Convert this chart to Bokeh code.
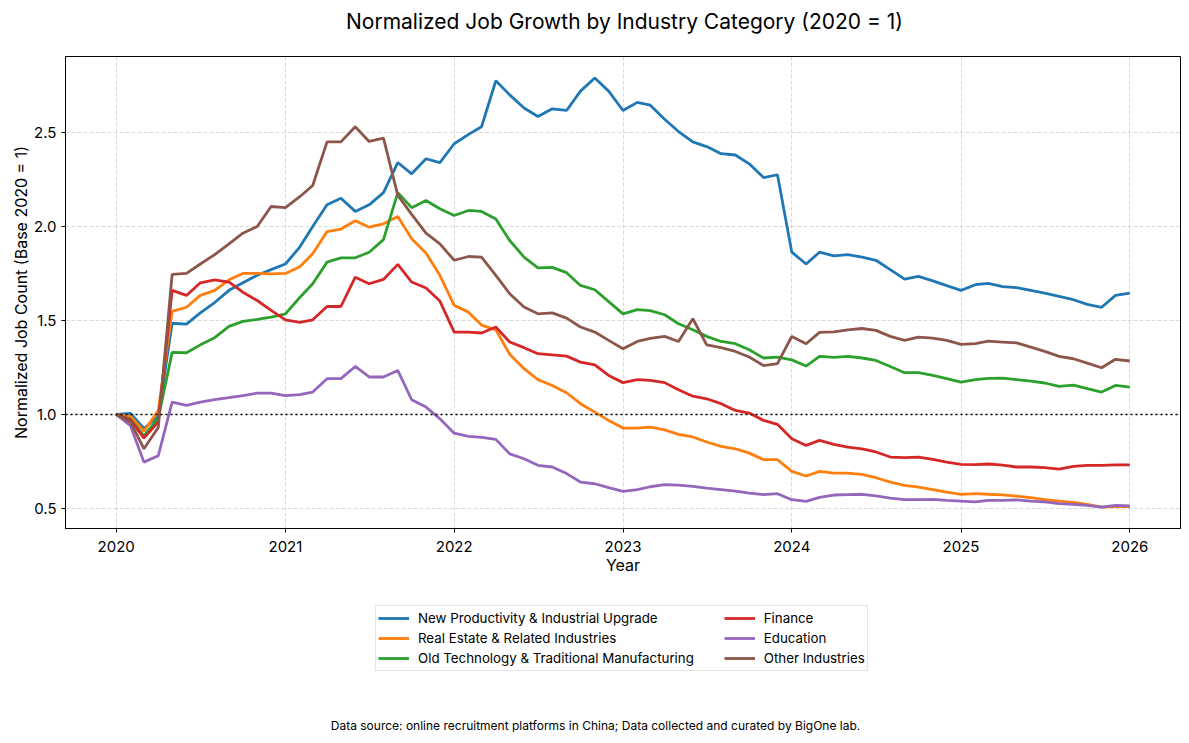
import pandas as pd
from bokeh.plotting import figure
from bokeh.layouts import column
from bokeh.models import (Range1d, FixedTicker, DatetimeTickFormatter, Span, Legend,
                          LegendItem, Label, ColumnDataSource, PrintfTickFormatter)
from bokeh.embed import file_html
from bokeh.resources import INLINE

# ---------------- data ----------------
start_month = "2020-01-01"
n_months = 73
series_names = [
    "New Productivity & Industrial Upgrade",
    "Real Estate & Related Industries",
    "Old Technology & Traditional Manufacturing",
    "Finance",
    "Education",
    "Other Industries",
]
new_productivity = [
    1.00, 1.005, 0.925, 0.99, 1.485, 1.48, 1.54, 1.595, 1.66, 1.70, 1.74, 1.77, 1.80,
    1.89, 2.00, 2.115, 2.15, 2.08, 2.115, 2.18, 2.34, 2.28, 2.36, 2.34, 2.44,
    2.49, 2.53, 2.775, 2.70, 2.63, 2.585, 2.626, 2.617, 2.72, 2.79, 2.72, 2.617,
    2.66, 2.645, 2.57, 2.505, 2.45, 2.425, 2.387, 2.38, 2.333, 2.26, 2.275, 1.863,
    1.80, 1.863, 1.843, 1.85, 1.837, 1.82, 1.77, 1.72, 1.734, 1.71, 1.685, 1.66,
    1.69, 1.697, 1.68, 1.674, 1.66, 1.645, 1.628, 1.61, 1.585, 1.57, 1.633, 1.645,
]
real_estate = [
    1.00, 0.99, 0.91, 1.02, 1.548, 1.57, 1.633, 1.66, 1.716, 1.75, 1.75, 1.748, 1.75,
    1.785, 1.855, 1.973, 1.986, 2.03, 1.996, 2.014, 2.053, 1.934, 1.858, 1.74, 1.58,
    1.544, 1.475, 1.45, 1.32, 1.243, 1.185, 1.154, 1.115, 1.057, 1.012, 0.968, 0.927,
    0.927, 0.932, 0.918, 0.894, 0.88, 0.853, 0.83, 0.817, 0.794, 0.759, 0.759, 0.697,
    0.672, 0.697, 0.688, 0.688, 0.681, 0.663, 0.64, 0.622, 0.613, 0.60, 0.587, 0.574,
    0.578, 0.575, 0.572, 0.565, 0.557, 0.546, 0.539, 0.532, 0.521, 0.507, 0.51, 0.51,
]
old_technology = [
    1.00, 0.975, 0.885, 0.98, 1.33, 1.328, 1.37, 1.408, 1.468, 1.495, 1.505, 1.518, 1.535,
    1.622, 1.695, 1.81, 1.833, 1.833, 1.863, 1.93, 2.18, 2.10, 2.138, 2.094, 2.058,
    2.085, 2.08, 2.04, 1.925, 1.837, 1.78, 1.782, 1.754, 1.686, 1.663, 1.60, 1.535,
    1.557, 1.552, 1.53, 1.482, 1.45, 1.415, 1.388, 1.376, 1.344, 1.30, 1.305, 1.29,
    1.257, 1.309, 1.303, 1.309, 1.30, 1.287, 1.255, 1.222, 1.222, 1.207, 1.19, 1.172,
    1.185, 1.192, 1.193, 1.185, 1.177, 1.167, 1.149, 1.156, 1.137, 1.119, 1.154, 1.145,
]
finance = [
    1.00, 0.97, 0.874, 0.96, 1.66, 1.633, 1.70, 1.716, 1.704, 1.65, 1.606, 1.553, 1.503,
    1.49, 1.503, 1.574, 1.574, 1.73, 1.695, 1.718, 1.798, 1.704, 1.672, 1.603, 1.438,
    1.438, 1.433, 1.465, 1.385, 1.355, 1.323, 1.317, 1.31, 1.278, 1.264, 1.207, 1.169,
    1.185, 1.181, 1.169, 1.131, 1.097, 1.083, 1.057, 1.021, 1.007, 0.968, 0.947, 0.87,
    0.835, 0.862, 0.84, 0.826, 0.817, 0.80, 0.773, 0.77, 0.773, 0.76, 0.746, 0.734,
    0.733, 0.736, 0.73, 0.72, 0.72, 0.717, 0.709, 0.723, 0.729, 0.729, 0.731, 0.731,
]
education = [
    1.00, 0.94, 0.746, 0.78, 1.065, 1.048, 1.065, 1.078, 1.089, 1.10, 1.113, 1.113, 1.10,
    1.105, 1.119, 1.19, 1.19, 1.255, 1.199, 1.199, 1.234, 1.078, 1.039, 0.977, 0.90,
    0.883, 0.878, 0.867, 0.79, 0.764, 0.729, 0.72, 0.685, 0.64, 0.631, 0.61, 0.59,
    0.60, 0.615, 0.626, 0.624, 0.617, 0.608, 0.60, 0.592, 0.581, 0.573, 0.578, 0.546,
    0.537, 0.558, 0.571, 0.573, 0.575, 0.566, 0.555, 0.546, 0.546, 0.548, 0.543, 0.539,
    0.534, 0.543, 0.543, 0.545, 0.539, 0.534, 0.525, 0.521, 0.516, 0.507, 0.516, 0.513,
]
other_industries = [
    1.00, 0.96, 0.817, 0.93, 1.745, 1.75, 1.80, 1.85, 1.907, 1.964, 2.0, 2.106, 2.10,
    2.158, 2.218, 2.45, 2.45, 2.53, 2.452, 2.47, 2.165, 2.064, 1.964, 1.907, 1.82,
    1.84, 1.837, 1.74, 1.642, 1.571, 1.535, 1.54, 1.512, 1.465, 1.438, 1.394, 1.349,
    1.388, 1.404, 1.415, 1.388, 1.509, 1.37, 1.355, 1.335, 1.305, 1.26, 1.27, 1.415,
    1.376, 1.436, 1.439, 1.45, 1.457, 1.447, 1.415, 1.394, 1.411, 1.406, 1.394, 1.372,
    1.376, 1.39, 1.385, 1.38, 1.358, 1.335, 1.309, 1.296, 1.273, 1.248, 1.293, 1.284,
]
year_ticks = [2020, 2021, 2022, 2023, 2024, 2025, 2026]
y_ticks = [0.5, 1.0, 1.5, 2.0, 2.5]
colors = ["#1f77b4", "#ff7f0e", "#2ca02c", "#d62728", "#9467bd", "#8c564b"]
title_text = "Normalized Job Growth by Industry Category (2020 = 1)"
footnote = "Data source: online recruitment platforms in China; Data collected and curated by BigOne lab."

all_series = [new_productivity, real_estate, old_technology, finance, education, other_industries]

dates = pd.date_range(start_month, periods=n_months, freq="MS")
FONT = "Inter"

def ms(ts):
    return pd.Timestamp(ts).value / 1e6

x0, x1 = ms(dates[0]), ms(dates[-1])
span = x1 - x0
all_vals = [v for s in all_series for v in s]
ymin, ymax = min(all_vals), max(all_vals)
yspan = ymax - ymin

W = 1181
H_TOP = 40
H_MAIN = 548
H_LEG = 147

def strip(h):
    f = figure(width=W, height=h, output_backend="svg", toolbar_location=None,
               x_range=Range1d(0, 1), y_range=Range1d(0, 1),
               x_axis_location=None, y_axis_location=None,
               min_border_left=0, min_border_right=0, min_border_top=0, min_border_bottom=0)
    f.grid.visible = False
    f.outline_line_color = None
    return f

# ---- title strip ----
p0 = strip(H_TOP)
p0.add_layout(Label(x=559, y=19, x_units="screen", y_units="screen", text=title_text,
                    text_font=FONT, text_font_size="21px", text_color="black",
                    text_align="center", text_baseline="middle"))

# ---- main chart ----
p = figure(width=W, height=H_MAIN, x_axis_type="datetime",
           output_backend="svg", toolbar_location=None,
           x_range=Range1d(x0 - 0.05 * span, x1 + 0.05 * span),
           y_range=Range1d(ymin - 0.05 * yspan, ymax + 0.05 * yspan),
           min_border_left=65, min_border_right=1, min_border_top=16, min_border_bottom=60)

p.outline_line_color = "black"
p.outline_line_width = 1
p.outline_line_alpha = 1

p.xaxis.ticker = FixedTicker(ticks=[ms(f"{y}-01-01") for y in year_ticks])
p.xaxis.formatter = DatetimeTickFormatter(years="%Y", months="%Y", days="%Y", hours="%Y",
                                          minutes="%Y", seconds="%Y", milliseconds="%Y",
                                          minsec="%Y", hourmin="%Y")
p.yaxis.ticker = FixedTicker(ticks=y_ticks)
p.yaxis.formatter = PrintfTickFormatter(format="%.1f")
p.xaxis.axis_label = "Year"
p.yaxis.axis_label = "Normalized Job Count (Base 2020 = 1)"
for ax in (p.xaxis, p.yaxis):
    ax.axis_label_text_font = FONT
    ax.axis_label_text_font_size = "16px"
    ax.axis_label_text_font_style = "normal"
    ax.axis_label_text_color = "black"
    ax.major_label_text_font = FONT
    ax.major_label_text_font_size = "15px"
    ax.major_label_text_color = "black"
    ax.minor_tick_line_color = None
    ax.major_tick_out = 4
    ax.major_tick_in = 0
    ax.axis_line_color = "black"
    ax.major_tick_line_color = "black"
p.xaxis.major_label_standoff = 8
p.xaxis.axis_label_standoff = 0
p.yaxis.major_label_standoff = 5
p.yaxis.axis_label_standoff = 0

p.grid.grid_line_color = "#b0b0b0"
p.grid.grid_line_alpha = 0.6
p.grid.grid_line_dash = "4 2"
p.grid.grid_line_width = 0.8

p.add_layout(Span(location=1.0, dimension="width", line_color="black",
                  line_dash="2 3", line_width=1.5))

for name, vals, c in zip(series_names, all_series, colors):
    src = ColumnDataSource(dict(x=dates, y=vals))
    p.line("x", "y", source=src, line_color=c, line_width=2.8)

# ---- legend + footnote strip ----
p2 = strip(H_LEG)
labels = list(series_names)
labels[2] = labels[2] + "\u00a0" * 8
items = []
for lab, vals, c in zip(labels, all_series, colors):
    # same series, outside this strip's visible range: only its legend swatch shows
    r = p2.line(x=[ms(d) for d in dates], y=vals, line_color=c, line_width=2.8)
    items.append(LegendItem(label=lab, renderers=[r]))

legend = Legend(items=items, ncols=2, location=(310, 64), orientation="vertical")
legend.label_text_font = FONT
legend.label_text_font_size = "13.3px"
legend.label_text_color = "black"
legend.glyph_width = 31
legend.glyph_height = 20
legend.label_height = 20
legend.spacing = 0
legend.padding = 2
legend.label_standoff = 9
legend.margin = 0
legend.border_line_color = "#cccccc"
legend.border_line_width = 1
legend.background_fill_alpha = 1
p2.add_layout(legend, "center")

p2.add_layout(Label(x=530, y=10, x_units="screen", y_units="screen", text=footnote,
                    text_font=FONT, text_font_size="12px", text_color="black",
                    text_align="center", text_baseline="middle"))

layout = column(p0, p, p2, spacing=0)
open("out.html", "w").write(file_html(layout, INLINE))
